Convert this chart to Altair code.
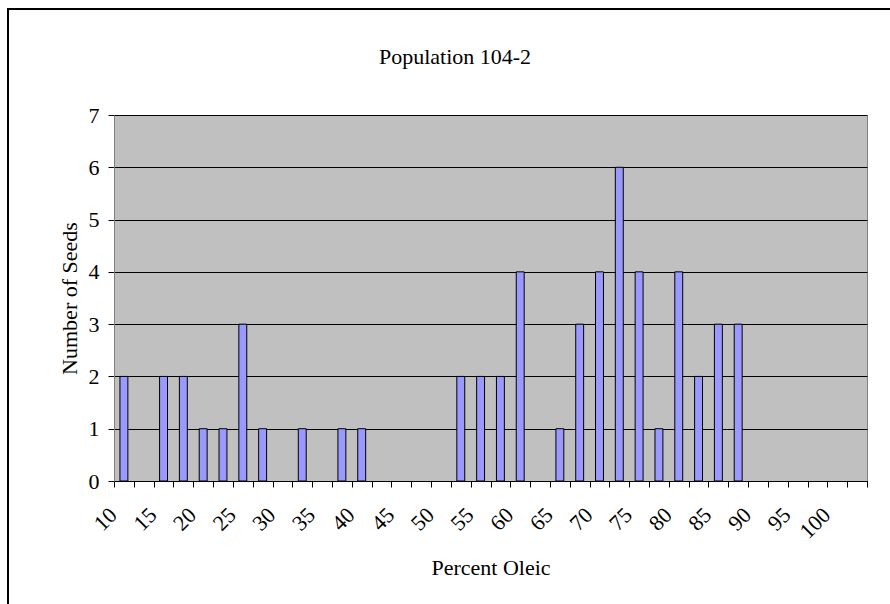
import altair as alt
import pandas as pd

# Bin labels (Percent Oleic) and counts (Number of Seeds)
bins = ["10", "12.5", "15", "17.5", "20", "22.5", "25", "27.5", "30", "32.5",
        "35", "37.5", "40", "42.5", "45", "47.5", "50", "52.5", "55", "57.5",
        "60", "62.5", "65", "67.5", "70", "72.5", "75", "77.5", "80", "82.5",
        "85", "87.5", "90", "92.5", "95", "97.5", "100", "102.5"]
counts = [2, 0, 2, 2, 1, 1, 3, 1, 0, 1,
          0, 1, 1, 0, 0, 0, 0, 2, 2, 2,
          4, 0, 1, 3, 4, 6, 4, 1, 4, 2,
          3, 3, 0, 0, 0, 0, 0, 0]
y_ticks = [0, 1, 2, 3, 4, 5, 6, 7]
title_text = ["Population 104-2"]

df = pd.DataFrame({"bin": bins, "count": counts})

FONT = "Liberation Serif"
FS = 22

frame = alt.Chart(pd.DataFrame({"a": [0]})).mark_rect(
    fillOpacity=0, stroke="black", strokeWidth=2
).encode(
    x=alt.value(-106), x2=alt.value(1000),
    y=alt.value(-106), y2=alt.value(1000)
)

title = alt.Chart(pd.DataFrame({"t": title_text})).mark_text(
    font=FONT, fontSize=FS, color="black", align="center", baseline="alphabetic"
).encode(
    text="t:N", x=alt.value(341), y=alt.value(-51)
)

bars = alt.Chart(df).transform_filter("datum.count > 0").mark_bar(
    width=alt.RelativeBandSize(0.4), fill="#9999FF", stroke="black", strokeWidth=1
).encode(
    x=alt.X("bin:O", sort=bins,
            scale=alt.Scale(domain=bins, paddingInner=0, paddingOuter=0),
            axis=alt.Axis(
                title="Percent Oleic", labelAngle=-45, labelAlign="right",
                labelBaseline="middle", labelExpr="indexof(datum.label, '.') >= 0 ? '' : datum.label",
                tickBand="extent", tickSize=6, tickColor="black", domainColor="black",
                labelFont=FONT, labelFontSize=FS, labelColor="black", labelPadding=24,
                labelOffset=-11, labelOverlap=False,
                titleFont=FONT, titleFontSize=FS, titleFontWeight="normal", titleColor="black",
                titleY=93, titleBaseline="alphabetic", grid=False)),
    y=alt.Y("count:Q",
            scale=alt.Scale(domain=[0, 7], nice=False),
            axis=alt.Axis(
                title="Number of Seeds", values=y_ticks, tickSize=6, tickColor="black",
                domainColor="#808080", gridColor="black", gridWidth=1, grid=True,
                labelFont=FONT, labelFontSize=FS, labelColor="black", labelPadding=9,
                titleFont=FONT, titleFontSize=FS, titleFontWeight="normal", titleColor="black",
                titleX=-38, titleY=183, titleAngle=-90, titleBaseline="alphabetic",
                titleAlign="center"))
)

chart = alt.layer(frame, title, bars).properties(
    width=753, height=366,
    autosize=alt.AutoSizeParams(type="none"),
    padding={"left": 114, "top": 115, "right": 23, "bottom": 123},
).configure_view(
    fill="#C0C0C0", stroke="#808080", strokeWidth=1
)

chart.save("out.html", embed_options={"renderer": "svg", "actions": False})
